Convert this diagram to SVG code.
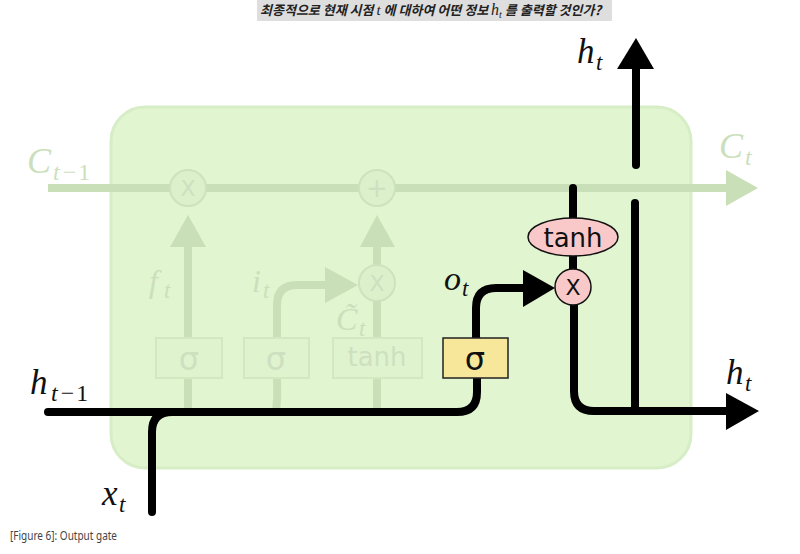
<svg xmlns="http://www.w3.org/2000/svg" width="800" height="554" viewBox="0 0 800 554">
<style>
.fl{fill:none;stroke:#c9dfb8;stroke-width:8;stroke-linecap:butt}
.ff{fill:#c9dfb8}
.fc{fill:#dcf0cc;stroke:#cde2bd;stroke-width:2}
.fb{fill:#e0f3cf;stroke:#d2e7c2;stroke-width:2}
.ft{fill:#cde0bf;font-family:"DejaVu Sans",sans-serif}
.fm{fill:#cbdfbc;font-family:"Liberation Serif",serif;font-style:italic}
.bl{fill:none;stroke:#000;stroke-width:8;stroke-linecap:round;stroke-linejoin:round}
.m{fill:#111;font-family:"Liberation Serif",serif;font-style:italic}
.up{font-style:normal}
.s{font-family:"DejaVu Sans",sans-serif;fill:#111}
</style>
<rect x="0" y="0" width="800" height="554" fill="#fff"/>
<g id="title">
<rect x="257" y="0" width="355" height="21" fill="#dedede"/>
<text x="260" y="15" font-family="'Noto Sans CJK KR',sans-serif" font-weight="bold" font-style="italic" font-size="13" fill="#222">최종적으로 현재 시점 <tspan font-family="'Liberation Serif',serif" font-weight="normal" font-size="15">t</tspan> 에 대하여 어떤 정보 <tspan font-family="'Liberation Serif',serif" font-weight="normal" font-size="16">h</tspan><tspan font-family="'Liberation Serif',serif" font-weight="normal" font-size="10" dy="3">t</tspan><tspan dy="-3"> 를 출력할 것인가?</tspan></text>
</g>
<g id="cell">
<rect x="111" y="107" width="580" height="361" rx="34" ry="34" fill="#e0f5d0" stroke="#d6edc6" stroke-width="3"/>
</g>
<g id="connectors">
<path class="fl" d="M48,188 H728"/>
<polygon class="ff" points="726,170 758,188 726,206"/>
<path class="fl" d="M188,413 V245"/>
<polygon class="ff" points="170,247 188,215 206,247"/>
<path class="fl" d="M377,301 V245"/>
<polygon class="ff" points="360,247 377,215 395,247"/>
<path class="fl" d="M377,413 V300"/>
<path class="fl" d="M276,413 Q278,396 277,378 V305 Q277,285 297,285 H328"/>
<polygon class="ff" points="325,267 358,285 325,303"/>
<path class="bl" d="M48,412 H457 Q477,412 477,392 V340" stroke-linecap="butt"/>
<path class="bl" d="M152,512 V432 Q152,412 172,412 H200" stroke-linecap="butt"/>
<path class="bl" d="M476,338 V308 Q476,288 496,288 H526" stroke-linecap="butt"/>
<polygon points="523,270 555,288 523,307" fill="#000"/>
<path class="bl" d="M573,188 V220"/>
<path class="bl" d="M573,255 V270"/>
<path class="bl" d="M574,300 V391 Q574,411 594,411 H728" stroke-linecap="butt"/>
<polygon points="726,393 759,411 726,430" fill="#000"/>
<path class="bl" d="M635,203 V411"/>
<path class="bl" d="M636,165 V67"/>
<polygon points="617,69 636,38 654,69" fill="#000"/>
</g>
<g id="forget-mult">
<circle class="fc" cx="188" cy="188" r="18"/>
<text class="ft" x="188" y="196" font-size="22" text-anchor="middle">X</text>
</g>
<g id="add">
<circle class="fc" cx="377" cy="188" r="18"/>
<text class="ft" x="377" y="197" font-size="26" text-anchor="middle">+</text>
</g>
<g id="input-mult">
<circle class="fc" cx="377" cy="283" r="18"/>
<text class="ft" x="377" y="291" font-size="22" text-anchor="middle">X</text>
</g>
<g id="forget-gate">
<rect class="fb" x="156" y="338" width="66" height="40"/>
<text class="ft" x="189" y="370" font-size="32" text-anchor="middle">σ</text>
</g>
<g id="input-gate">
<rect class="fb" x="244" y="338" width="65" height="40"/>
<text class="ft" x="276" y="370" font-size="32" text-anchor="middle">σ</text>
</g>
<g id="candidate">
<rect class="fb" x="333" y="338" width="89" height="40"/>
<text class="ft" x="377" y="366" font-size="26" text-anchor="middle">tanh</text>
</g>
<g id="output-gate">
<rect x="443" y="338" width="65" height="40" fill="#f7e79b" stroke="#222" stroke-width="1.5"/>
<text class="s" x="475" y="370" font-size="32" text-anchor="middle">σ</text>
</g>
<g id="tanh-out">
<ellipse cx="573" cy="237" rx="45" ry="19" fill="#f9c9c9" stroke="#111" stroke-width="1.5"/>
<text class="s" x="573" y="247" font-size="26" text-anchor="middle">tanh</text>
</g>
<g id="output-mult">
<circle cx="573" cy="287" r="18" fill="#f9c9c9" stroke="#111" stroke-width="1.5"/>
<text class="s" x="573" y="295" font-size="22" text-anchor="middle">X</text>
</g>
<g id="labels">
<text class="fm" x="27" y="173" font-size="36">C<tspan font-size="24" x="53" y="180">t</tspan><tspan class="up" font-size="24" dx="3">−</tspan><tspan class="up" font-size="24" dx="2">1</tspan></text>
<text class="fm" x="719" y="158" font-size="36">C<tspan font-size="24" x="745" y="165">t</tspan></text>
<text class="fm" x="149" y="292" font-size="32">f<tspan font-size="23" x="164" y="298">t</tspan></text>
<text class="fm" x="252" y="292" font-size="32">i<tspan font-size="23" x="263" y="298">t</tspan></text>
<text class="fm" x="336" y="330" font-size="32">C̃<tspan font-size="23" x="359" y="336">t</tspan></text>
<text class="m" x="444" y="290" font-size="34">o<tspan font-size="23" x="462" y="296">t</tspan></text>
<text class="m" x="577" y="63" font-size="35">h<tspan font-size="23" x="596" y="70">t</tspan></text>
<text class="m" x="726" y="384" font-size="35">h<tspan font-size="23" x="745" y="391">t</tspan></text>
<text class="m" x="30" y="394" font-size="35">h<tspan font-size="24" x="51" y="401">t</tspan><tspan class="up" font-size="24" dx="3">−</tspan><tspan class="up" font-size="24" dx="2">1</tspan></text>
<text class="m" x="102" y="505" font-size="35">x<tspan font-size="23" x="119" y="512">t</tspan></text>
</g>
<g id="caption">
<text x="10" y="540" font-family="'Noto Sans',sans-serif" font-size="12" fill="#444" textLength="107" lengthAdjust="spacingAndGlyphs">[Figure 6]: Output gate</text>
</g>
</svg>
